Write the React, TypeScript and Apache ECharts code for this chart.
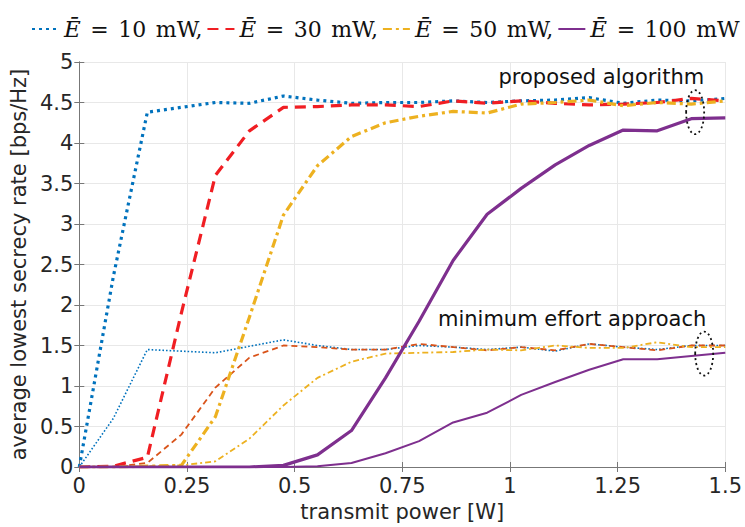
import React, { useEffect, useRef } from "react";
import * as echarts from "echarts";

const power = [0, 0.079, 0.158, 0.237, 0.316, 0.395, 0.474, 0.553, 0.632, 0.711, 0.789, 0.868, 0.947, 1.026, 1.105, 1.184, 1.263, 1.342, 1.421, 1.5];

const prop10 = [0, 2.35, 4.38, 4.44, 4.5, 4.49, 4.58, 4.53, 4.49, 4.5, 4.5, 4.52, 4.5, 4.52, 4.53, 4.56, 4.49, 4.53, 4.52, 4.55];
const prop30 = [0, 0.01, 0.12, 1.9, 3.6, 4.15, 4.44, 4.45, 4.47, 4.47, 4.45, 4.52, 4.49, 4.52, 4.49, 4.47, 4.48, 4.5, 4.55, 4.52];
const prop50 = [0, 0, 0.01, 0.02, 0.62, 1.85, 3.11, 3.72, 4.08, 4.25, 4.33, 4.39, 4.37, 4.48, 4.5, 4.53, 4.46, 4.5, 4.48, 4.52];
const prop100 = [0, 0, 0, 0, 0, 0, 0.02, 0.15, 0.45, 1.1, 1.8, 2.55, 3.12, 3.44, 3.73, 3.97, 4.16, 4.15, 4.3, 4.31];

const min10 = [0, 0.6, 1.45, 1.43, 1.41, 1.49, 1.57, 1.5, 1.45, 1.45, 1.5, 1.48, 1.45, 1.48, 1.43, 1.52, 1.48, 1.45, 1.5, 1.5];
const min30 = [0, 0, 0.05, 0.4, 0.98, 1.35, 1.5, 1.48, 1.45, 1.45, 1.52, 1.48, 1.44, 1.48, 1.44, 1.52, 1.48, 1.44, 1.5, 1.5];
const min50 = [0, 0, 0.01, 0.02, 0.07, 0.35, 0.76, 1.1, 1.3, 1.4, 1.41, 1.42, 1.45, 1.44, 1.5, 1.47, 1.47, 1.54, 1.48, 1.48];
const min100 = [0, 0, 0, 0, 0, 0, 0, 0.01, 0.05, 0.17, 0.32, 0.55, 0.67, 0.89, 1.05, 1.2, 1.33, 1.33, 1.37, 1.41];

const energyLevels = ["10", "30", "50", "100"];
const legendNames = energyLevels.map((e) => "E" + e);

const xTicks = ["0", "0.25", "0.5", "0.75", "1", "1.25", "1.5"];

const annotProposed = { text: "proposed algorithm", x: 1.451, y: 4.82 };
const annotMin = { text: "minimum effort approach", x: 1.456, y: 1.83 };
const ellipseProposed = { x: 1.43, y: 4.38 };
const ellipseMin = { x: 1.451, y: 1.4 };

const BLUE = "#0072BD";
const RED = "#F01E23";
const ORANGE = "#D95319";
const YELLOW = "#EDB120";
const PURPLE = "#7E2F8E";
const SANS = "DejaVu Sans";
const SERIF = "DejaVu Serif";

function pts(ys: number[]) {
  return power.map((x, i) => [x, ys[i]]);
}

export default function App() {
  const ref = useRef<HTMLDivElement>(null);
  useEffect(() => {
    if (!ref.current) return;
    const chart = echarts.init(ref.current, null, { renderer: "svg" });
    const mkLine = (name: string, ys: number[], color: string, width: number, type: any) => ({
      name,
      type: "line",
      data: pts(ys),
      symbol: "none",
      xAxisIndex: 0,
      yAxisIndex: 0,
      lineStyle: { color, width, type, cap: "butt", join: "round" },
      itemStyle: { color },
    });
    const option: any = {
      animation: false,
      backgroundColor: "#ffffff",
      grid: { left: 77, right: 19, top: 62, bottom: 55, containLabel: false },
      legend: {
        data: legendNames,
        left: 26,
        top: 9,
        itemWidth: 27,
        itemHeight: 14,
        itemGap: 4,
        selectedMode: false,
        itemStyle: { opacity: 0 },
        formatter: (name: string) => {
          const idx = legendNames.indexOf(name);
          const v = energyLevels[idx];
          const comma = idx < legendNames.length - 1 ? "," : "";
          return `{e|\u0112}{s| }{r|=}{s| }{r|${v}}{s| }{r|mW${comma}}`;
        },
        textStyle: {
          rich: {
            e: { fontFamily: SERIF, fontStyle: "italic", fontSize: 23, color: "#111", lineHeight: 26 },
            r: { fontFamily: SERIF, fontSize: 22, color: "#111", lineHeight: 26 },
            s: { fontFamily: SERIF, fontSize: 30, color: "#111", lineHeight: 26 },
          },
        },
      },
      xAxis: [
        {
          type: "value",
          min: 0,
          max: 1.5,
          interval: 0.25,
          position: "bottom",
          name: "transmit power [W]",
          nameLocation: "middle",
          nameGap: 34,
          nameTextStyle: { fontFamily: SANS, fontSize: 21, color: "#262626" },
          axisLine: { show: true, lineStyle: { color: "#777", width: 1 } },
          axisTick: { show: true, inside: true, length: 5, lineStyle: { color: "#777" } },
          axisLabel: {
            fontFamily: SANS,
            fontSize: 21,
            color: "#262626",
            margin: 8,
            formatter: (v: number) => {
              const i = Math.round(v / 0.25);
              return xTicks[i] ?? "";
            },
          },
          splitLine: { show: true, lineStyle: { color: "#e8e8e8", width: 1 } },
        },
        {
          type: "value",
          min: 0,
          max: 1.5,
          interval: 0.25,
          position: "top",
          axisLine: { show: true, lineStyle: { color: "#777", width: 1 } },
          axisTick: { show: true, inside: true, length: 5, lineStyle: { color: "#777" } },
          axisLabel: { show: false },
          splitLine: { show: false },
        },
      ],
      yAxis: [
        {
          type: "value",
          min: 0,
          max: 5,
          interval: 0.5,
          position: "left",
          name: "average lowest secrecy rate [bps/Hz]",
          nameLocation: "middle",
          nameGap: 44,
          nameTextStyle: { fontFamily: SANS, fontSize: 21, color: "#262626" },
          axisLine: { show: true, lineStyle: { color: "#777", width: 1 } },
          axisTick: { show: true, inside: true, length: 5, lineStyle: { color: "#777" } },
          axisLabel: { fontFamily: SANS, fontSize: 21, color: "#262626", margin: 6 },
          splitLine: { show: true, lineStyle: { color: "#e8e8e8", width: 1 } },
        },
        {
          type: "value",
          min: 0,
          max: 5,
          interval: 0.5,
          position: "right",
          axisLine: { show: true, lineStyle: { color: "#777", width: 1 } },
          axisTick: { show: true, inside: true, length: 5, lineStyle: { color: "#777" } },
          axisLabel: { show: false },
          splitLine: { show: false },
        },
      ],
      series: [
        mkLine("min10", min10, BLUE, 1.6, [1.6, 2]),
        mkLine("min30", min30, ORANGE, 1.8, [6, 4]),
        mkLine("min50", min50, YELLOW, 1.8, [6, 3, 2, 3]),
        mkLine("min100", min100, PURPLE, 2, "solid"),
        mkLine(legendNames[0], prop10, BLUE, 3.2, [3, 4]),
        mkLine(legendNames[1], prop30, RED, 3.2, [11, 7]),
        mkLine(legendNames[2], prop50, YELLOW, 3.2, [9, 4, 3, 4]),
        mkLine(legendNames[3], prop100, PURPLE, 3.2, "solid"),
      ],
    };
    chart.setOption(option);

    const px = (x: number, y: number) => chart.convertToPixel({ gridIndex: 0 }, [x, y]) as number[];
    const tp = px(annotProposed.x, annotProposed.y);
    const tm = px(annotMin.x, annotMin.y);
    const ep = px(ellipseProposed.x, ellipseProposed.y);
    const em = px(ellipseMin.x, ellipseMin.y);
    const ell = (c: number[]) => ({
      type: "ellipse",
      shape: { cx: c[0], cy: c[1], rx: 9, ry: 22 },
      style: { fill: "none", stroke: "#111", lineWidth: 1.8, lineDash: [2, 3] },
      z: 100,
    });
    chart.setOption({
      graphic: [
        {
          type: "text",
          x: tp[0],
          y: tp[1],
          style: {
            text: annotProposed.text,
            fontFamily: SANS,
            fontSize: 21,
            fill: "#111",
            align: "right",
            verticalAlign: "middle",
          },
          z: 100,
        },
        {
          type: "text",
          x: tm[0],
          y: tm[1],
          style: {
            text: annotMin.text,
            fontFamily: SANS,
            fontSize: 21,
            fill: "#111",
            align: "right",
            verticalAlign: "middle",
          },
          z: 100,
        },
        ell(ep),
        ell(em),
      ],
    });
    return () => chart.dispose();
  }, []);
  return (
    <div
      ref={ref}
      style={{ position: "absolute", left: 0, top: 0, width: 745, height: 527, background: "#fff" }}
    />
  );
}
